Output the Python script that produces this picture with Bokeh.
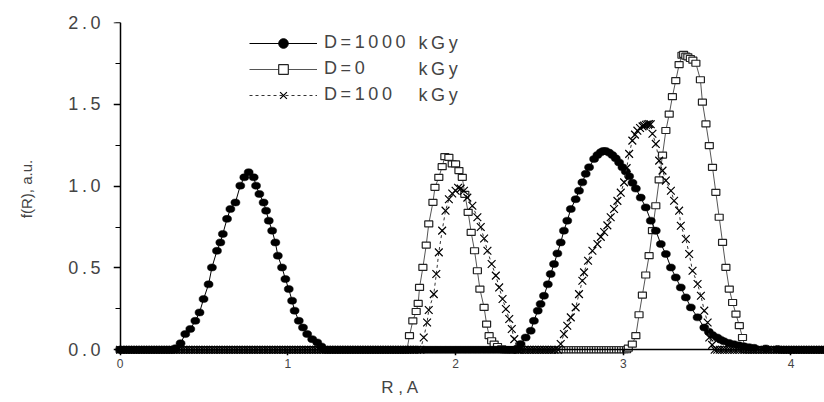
import numpy as np
from bokeh.plotting import figure
from bokeh.models import (Range1d, FixedTicker, SingleIntervalTicker, CustomJSTickFormatter,
                          LinearAxis, Legend, LegendItem, Label, ColumnDataSource)
from bokeh.embed import file_html
from bokeh.resources import INLINE

# ---- D = 1000 kGy (filled circles) ----
d1000_p1_x = [0.33, 0.36, 0.388, 0.418, 0.448, 0.473, 0.497, 0.527, 0.547, 0.577, 0.597, 0.612,
              0.637, 0.657, 0.687, 0.716, 0.74, 0.766, 0.796, 0.81, 0.83, 0.855, 0.87, 0.886,
              0.906, 0.925, 0.94, 0.965, 0.985, 1.005, 1.025, 1.04, 1.065, 1.09, 1.115, 1.145,
              1.175, 1.20]
d1000_p1_y = [0.01, 0.04, 0.096, 0.127, 0.177, 0.228, 0.31, 0.40, 0.503, 0.605, 0.656, 0.708,
              0.80, 0.86, 0.90, 1.003, 1.054, 1.085, 1.054, 1.003, 0.952, 0.90, 0.85, 0.789,
              0.728, 0.656, 0.575, 0.503, 0.432, 0.371, 0.30, 0.239, 0.177, 0.136, 0.096, 0.065,
              0.045, 0.02]
d1000_p2_x = [2.37, 2.388, 2.418, 2.448, 2.467, 2.49, 2.507, 2.527, 2.55, 2.567, 2.587, 2.607,
              2.627, 2.646, 2.666, 2.687, 2.716, 2.736, 2.756, 2.776, 2.796, 2.826, 2.846, 2.866,
              2.88, 2.895, 2.915, 2.935, 2.955, 2.975, 2.995, 3.015, 3.035, 3.055, 3.075, 3.104,
              3.134, 3.164, 3.194, 3.224, 3.254, 3.284, 3.313, 3.343, 3.373, 3.403, 3.443, 3.483,
              3.51, 3.532, 3.56, 3.58, 3.60, 3.63, 3.66, 3.69, 3.72, 3.75, 3.78, 3.85, 3.92]
d1000_p2_y = [0.01, 0.035, 0.075, 0.116, 0.177, 0.239, 0.28, 0.33, 0.40, 0.463, 0.524, 0.589,
              0.656, 0.728, 0.789, 0.86, 0.92, 0.972, 1.023, 1.075, 1.115, 1.166, 1.19, 1.207,
              1.215, 1.215, 1.205, 1.19, 1.17, 1.145, 1.115, 1.09, 1.06, 1.02, 0.985, 0.93,
              0.87, 0.789, 0.728, 0.646, 0.585, 0.503, 0.442, 0.381, 0.32, 0.259, 0.198, 0.136,
              0.11, 0.09, 0.075, 0.062, 0.052, 0.042, 0.034, 0.027, 0.021, 0.016, 0.012, 0.008, 0.004]
d1000_zero = [(0.0, 0.32), (1.22, 2.36), (3.94, 4.22)]

# ---- D = 0 kGy (open squares) ----
d0_p1_x = [1.71, 1.725, 1.745, 1.765, 1.777, 1.785, 1.805, 1.825, 1.84, 1.865, 1.877, 1.90,
           1.92, 1.936, 1.96, 1.98, 2.0, 2.02, 2.04, 2.055, 2.075, 2.093, 2.113, 2.13, 2.145,
           2.17, 2.185, 2.20, 2.215, 2.23, 2.25, 2.275, 2.29]
d0_p1_y = [0.0, 0.086, 0.177, 0.234, 0.283, 0.381, 0.503, 0.64, 0.769, 0.901, 0.993, 1.054,
           1.119, 1.18, 1.176, 1.136, 1.136, 1.095, 1.054, 0.95, 0.84, 0.717, 0.605, 0.483, 0.371,
           0.259, 0.157, 0.086, 0.055, 0.035, 0.02, 0.006, 0.0]
d0_p2_x = [3.03, 3.054, 3.075, 3.094, 3.114, 3.134, 3.154, 3.174, 3.194, 3.214, 3.234, 3.254,
           3.274, 3.293, 3.313, 3.333, 3.35, 3.36, 3.373, 3.385, 3.40, 3.415, 3.433, 3.46,
           3.472, 3.493, 3.513, 3.532, 3.552, 3.572, 3.592, 3.612, 3.632, 3.652, 3.672, 3.692,
           3.711, 3.73]
d0_p2_y = [0.01, 0.035, 0.086, 0.214, 0.334, 0.457, 0.575, 0.728, 0.88, 1.038, 1.19, 1.34,
           1.44, 1.547, 1.645, 1.743, 1.80, 1.805, 1.795, 1.79, 1.78, 1.77, 1.751, 1.65,
           1.513, 1.38, 1.248, 1.115, 0.962, 0.81, 0.656, 0.503, 0.371, 0.289, 0.218, 0.147,
           0.075, 0.0]
d0_zero = [(0.0, 1.70), (2.30, 3.02), (3.74, 4.22)]

# ---- D = 100 kGy (crosses) ----
d100_p1_x = [1.79, 1.81, 1.83, 1.84, 1.87, 1.885, 1.90, 1.92, 1.94, 1.96, 1.98, 2.0, 2.015,
             2.03, 2.05, 2.07, 2.10, 2.13, 2.15, 2.17, 2.19, 2.215, 2.24, 2.26, 2.28, 2.30,
             2.32, 2.335, 2.35, 2.37]
d100_p1_y = [0.0, 0.075, 0.167, 0.243, 0.34, 0.463, 0.595, 0.728, 0.85, 0.92, 0.955, 0.972,
             0.99, 0.985, 0.972, 0.93, 0.88, 0.81, 0.75, 0.68, 0.605, 0.524, 0.453, 0.381,
             0.31, 0.249, 0.188, 0.127, 0.065, 0.0]
d100_p2_x = [2.61, 2.627, 2.646, 2.666, 2.687, 2.716, 2.736, 2.756, 2.766, 2.79, 2.816, 2.846,
             2.866, 2.886, 2.905, 2.925, 2.945, 2.965, 2.985, 3.005, 3.02, 3.035, 3.054, 3.07,
             3.084, 3.10, 3.115, 3.124, 3.135, 3.145, 3.155, 3.164, 3.174, 3.194, 3.214, 3.234,
             3.254, 3.284, 3.303, 3.333, 3.343, 3.373, 3.393, 3.413, 3.443, 3.463, 3.483, 3.503,
             3.513, 3.53, 3.545]
d100_p2_y = [0.0, 0.035, 0.096, 0.147, 0.198, 0.259, 0.34, 0.422, 0.473, 0.544, 0.605, 0.646,
             0.69, 0.72, 0.76, 0.81, 0.86, 0.91, 0.96, 1.023, 1.11, 1.197, 1.278, 1.315,
             1.339, 1.355, 1.365, 1.37, 1.375, 1.378, 1.38, 1.378, 1.32, 1.258, 1.156, 1.095,
             1.034, 0.972, 0.911, 0.85, 0.758, 0.677, 0.585, 0.483, 0.402, 0.33, 0.239, 0.167,
             0.075, 0.03, 0.0]
d100_zero = [(0.0, 1.78), (2.38, 2.60), (3.56, 4.22)]

x_ticks = [0, 1, 2, 3, 4]
legend_labels = ["D=1000", "D=0", "D=100"]
unit_label = "kGy"
x_title = "R , A"
y_title = "f(R), a.u."

THIN = "\u2009"


def spaced(s):
    return THIN.join(s)


def build_source(peaks, zero_spans, step=0.015):
    xs, ys = [], []
    for px, py in peaks:
        xs.extend(px)
        ys.extend(py)
    for a, b in zero_spans:
        z = np.arange(a, b + 1e-9, step)
        xs.extend(z.tolist())
        ys.extend([0.0] * len(z))
    xs = np.asarray(xs, dtype=float)
    ys = np.asarray(ys, dtype=float)
    order = np.argsort(xs, kind="stable")
    return ColumnDataSource(dict(x=xs[order], y=ys[order]))


src_1000 = build_source([(d1000_p1_x, d1000_p1_y), (d1000_p2_x, d1000_p2_y)], d1000_zero)
src_0 = build_source([(d0_p1_x, d0_p1_y), (d0_p2_x, d0_p2_y)], d0_zero)
src_100 = build_source([(d100_p1_x, d100_p1_y), (d100_p2_x, d100_p2_y)], d100_zero)

FONT = "Liberation Sans"

p = figure(width=824, height=402, title=None,
           x_range=Range1d(-0.04, 4.2), y_range=Range1d(-0.035, 2.0),
           x_axis_type=None, y_axis_type=None,
           output_backend="svg", toolbar_location=None,
           min_border_left=113, min_border_right=0, min_border_top=22, min_border_bottom=47)
p.outline_line_color = None
p.background_fill_color = "white"
p.border_fill_color = "white"

# ---- tick labels (at the frame edges, no lines) ----
x_lab = LinearAxis(ticker=FixedTicker(ticks=x_ticks, minor_ticks=[]))
x_lab.axis_line_color = None
x_lab.major_tick_line_color = None
x_lab.minor_tick_line_color = None
x_lab.major_tick_out = 0
x_lab.major_tick_in = 0
x_lab.minor_tick_out = 0
x_lab.major_label_standoff = 3
x_lab.major_label_text_font = FONT
x_lab.major_label_text_font_size = "12px"
p.add_layout(x_lab, "below")

# x title: a single label placed left of the frame centre, under R = 1.67
x_title_axis = LinearAxis(ticker=FixedTicker(ticks=[1.67], minor_ticks=[]),
                          formatter=CustomJSTickFormatter(args=dict(t=x_title), code="return t;"))
x_title_axis.axis_line_color = None
x_title_axis.major_tick_line_color = None
x_title_axis.minor_tick_line_color = None
x_title_axis.major_tick_out = 0
x_title_axis.major_tick_in = 0
x_title_axis.minor_tick_out = 0
x_title_axis.major_label_standoff = 7
x_title_axis.major_label_text_font = FONT
x_title_axis.major_label_text_font_size = "17px"
p.add_layout(x_title_axis, "below")

y_lab = LinearAxis(ticker=SingleIntervalTicker(interval=0.5, num_minor_ticks=2),
                   axis_label=y_title)
y_lab.formatter = CustomJSTickFormatter(code="return tick.toFixed(1).split('').join('\u2009');")
y_lab.axis_line_color = None
y_lab.major_tick_line_color = None
y_lab.minor_tick_line_color = None
y_lab.major_tick_out = 0
y_lab.major_tick_in = 0
y_lab.minor_tick_out = 0
y_lab.major_label_standoff = 13
y_lab.major_label_text_font = FONT
y_lab.major_label_text_font_size = "18px"
y_lab.axis_label_text_font = FONT
y_lab.axis_label_text_font_size = "15px"
y_lab.axis_label_text_font_style = "normal"
y_lab.axis_label_standoff = 30
p.add_layout(y_lab, "left")

# ---- axis lines and ticks crossing at the origin ----
x_line = LinearAxis(ticker=FixedTicker(ticks=x_ticks, minor_ticks=[]), fixed_location=0,
                    bounds=(0, 4.2))
x_line.axis_line_width = 1.5
x_line.major_tick_line_width = 1.5
x_line.major_tick_out = 0
x_line.major_tick_in = 6
x_line.minor_tick_line_color = None
x_line.major_label_text_color = None
x_line.major_label_text_font_size = "1px"
x_line.major_label_standoff = 0
p.add_layout(x_line, "above")

y_line = LinearAxis(ticker=SingleIntervalTicker(interval=0.5, num_minor_ticks=2),
                    fixed_location=0, bounds=(0, 2.0))
y_line.axis_line_width = 1.5
y_line.major_tick_line_width = 1.5
y_line.minor_tick_line_width = 1.2
y_line.major_tick_out = 7
y_line.major_tick_in = 0
y_line.minor_tick_out = 5
y_line.minor_tick_in = 0
y_line.major_label_text_color = None
y_line.major_label_text_font_size = "1px"
y_line.major_label_standoff = 0
p.add_layout(y_line, "left")

# D = 0 kGy
l0 = p.line("x", "y", source=src_0, line_color="#555555", line_width=1)
p.rect("x", "y", width=8, height=6, width_units="screen", height_units="screen",
       source=src_0, fill_color="white", line_color="#222222", line_width=1.2)
k0 = p.scatter("x", "y", source=src_0, marker="square", size=7, fill_color="white",
               line_color="#222222", line_width=1.2, visible=False)

# D = 1000 kGy
l1000 = p.line("x", "y", source=src_1000, line_color="black", line_width=1)
p.ellipse("x", "y", width=9, height=7, width_units="screen", height_units="screen",
          source=src_1000, fill_color="black", line_color="black", line_width=0.5)
k1000 = p.scatter("x", "y", source=src_1000, marker="circle", size=9, fill_color="black",
                  line_color="black", visible=False)

# D = 100 kGy
l100 = p.line("x", "y", source=src_100, line_color="#333333", line_width=1, line_dash="3 3")
m100 = p.scatter("x", "y", source=src_100, marker="x", size=11, line_color="black", line_width=1.2)

legend = Legend(items=[LegendItem(label=spaced(legend_labels[0]), renderers=[l1000, k1000]),
                       LegendItem(label=spaced(legend_labels[1]), renderers=[l0, k0]),
                       LegendItem(label=spaced(legend_labels[2]), renderers=[l100, m100])],
                location=(136, 248.3), glyph_width=68, glyph_height=24, label_height=20,
                label_standoff=7, spacing=2, padding=0, margin=0,
                border_line_color=None, background_fill_alpha=0,
                label_text_font=FONT, label_text_font_size="18px")
p.add_layout(legend)

for row_y in (312.3, 286.3, 260.3):
    p.add_layout(Label(x=305, y=row_y, x_units="screen", y_units="screen",
                       text=spaced(unit_label), text_font=FONT, text_font_size="18px",
                       text_baseline="middle", text_align="left"))

open("out.html", "w").write(file_html(p, INLINE))
